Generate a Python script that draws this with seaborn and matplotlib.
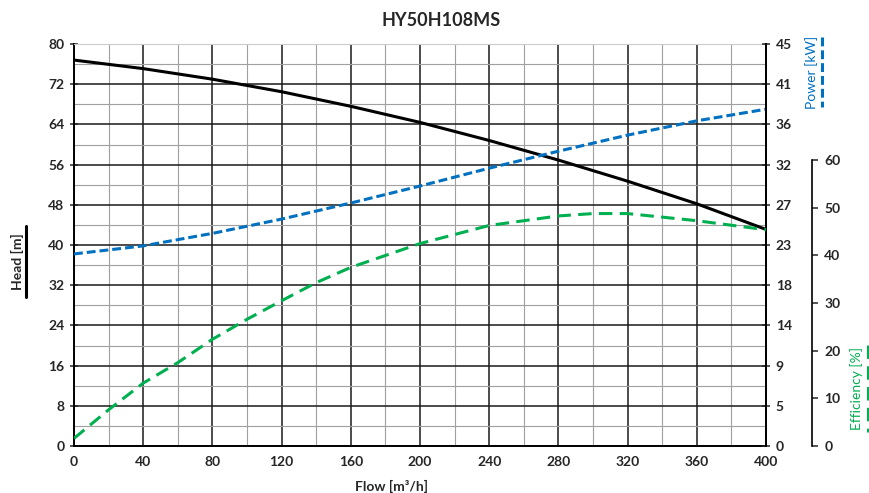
import numpy as np
import pandas as pd
import matplotlib
matplotlib.use("Agg")
import matplotlib.pyplot as plt
import seaborn as sns
from matplotlib.lines import Line2D
from matplotlib.ticker import MultipleLocator, FixedLocator, FixedFormatter

# --- data ---
flow = [0, 40, 80, 120, 160, 200, 240, 280, 320, 360, 400]
head = [76.8, 75.1, 73.0, 70.5, 67.6, 64.4, 60.8, 56.9, 52.7, 48.2, 43.1]
power = [21.5, 22.4, 23.8, 25.4, 27.2, 29.1, 31.1, 33.0, 34.8, 36.4, 37.7]

eff_flow = [0, 20, 40, 60, 80, 100, 120, 140, 160, 180, 200, 240, 280, 300, 320, 360, 400]
efficiency = [1.6, 7.6, 13.2, 17.5, 22.4, 26.6, 30.5, 34.3, 37.5, 40.0, 42.5,
              46.3, 48.3, 48.8, 48.8, 47.3, 45.4]

head_ticks = [0, 8, 16, 24, 32, 40, 48, 56, 64, 72, 80]
power_ticks = [0, 4.5, 9, 13.5, 18, 22.5, 27, 31.5, 36, 40.5, 45]
power_ticklabels = ["0", "5", "9", "14", "18", "23", "27", "32", "36", "41", "45"]
eff_ticks = [0, 10, 20, 30, 40, 50, 60]
flow_ticks = [0, 40, 80, 120, 160, 200, 240, 280, 320, 360, 400]

df_main = pd.DataFrame({"flow": flow, "head": head, "power": power})
df_eff = pd.DataFrame({"flow": eff_flow, "eff": efficiency})

BLUE = "#0070C0"
GREEN = "#00B050"
LW = 2.2
BLUE_DASH = [2.9, 1.3]
GREEN_DASH = [4.4, 2.4]

sns.set_style("white")
plt.rcParams["font.family"] = ["Lato", "DejaVu Sans"]

W, H = 870, 493
fig = plt.figure(figsize=(W / 100, H / 100), dpi=100)
ax = fig.add_axes([74 / W, 1 - 446 / H, 692 / W, 402 / H])

# --- head curve ---
sns.lineplot(data=df_main, x="flow", y="head", ax=ax, color="black", lw=LW)
ax.set_xlim(0, 400)
ax.set_ylim(0, 80)
ax.xaxis.set_major_locator(FixedLocator(flow_ticks))
ax.xaxis.set_minor_locator(MultipleLocator(20))
ax.yaxis.set_major_locator(FixedLocator(head_ticks))
ax.yaxis.set_minor_locator(MultipleLocator(4))
ax.grid(which="major", color="#1a1a1a", lw=1.1)
ax.grid(which="minor", color="#a0a0a0", lw=0.8)
ax.set_axisbelow(True)
ax.tick_params(axis="both", which="major", direction="inout", length=6, width=1.1,
               labelsize=10, pad=4)
ax.tick_params(axis="both", which="minor", length=0)
for lab in ax.get_xticklabels() + ax.get_yticklabels():
    lab.set_fontweight("bold")
for s in ["left", "bottom", "right"]:
    ax.spines[s].set_color("black")
    ax.spines[s].set_linewidth(1.4)
ax.spines["top"].set_color("#cccccc")
ax.set_xlabel("Flow [m³/h]", fontsize=10, fontweight="bold")
ax.xaxis.set_label_coords((392 - 74) / 692, -0.085)
ax.set_ylabel("")

# --- power curve ---
axp = ax.twinx()
sns.lineplot(data=df_main, x="flow", y="power", ax=axp, color=BLUE, lw=LW)
axp.lines[-1].set_dashes(BLUE_DASH)
axp.set_ylim(0, 45)
axp.yaxis.set_major_locator(FixedLocator(power_ticks))
axp.yaxis.set_major_formatter(FixedFormatter(power_ticklabels))
axp.tick_params(axis="y", direction="inout", length=6, width=1.1, labelsize=10, pad=4)
for lab in axp.get_yticklabels():
    lab.set_fontweight("bold")
axp.set_ylabel("")
for s in ["left", "top", "bottom"]:
    axp.spines[s].set_visible(False)
axp.spines["right"].set_linewidth(1.4)
axp.spines["right"].set_color("black")

# --- efficiency curve ---
axe = ax.twinx()
sns.lineplot(data=df_eff, x="flow", y="eff", ax=axe, color=GREEN, lw=LW)
axe.lines[-1].set_dashes(GREEN_DASH)
axe.set_ylim(0, 84.4)
axe.spines["right"].set_position(("outward", 33))
axe.spines["right"].set_bounds(0, 60)
axe.spines["right"].set_color("black")
axe.spines["right"].set_linewidth(1.2)
for s in ["left", "top", "bottom"]:
    axe.spines[s].set_visible(False)
axe.yaxis.set_major_locator(FixedLocator(eff_ticks))
axe.tick_params(axis="y", direction="out", length=4, width=1.1, labelsize=10, pad=5)
for lab in axe.get_yticklabels():
    lab.set_fontweight("bold")
axe.set_ylabel("")

# --- titles and axis captions with line keys ---
fig.text(441 / W, 1 - 20 / H, "HY50H108MS", ha="center", va="center",
         fontsize=13, fontweight="bold")
fig.text(17 / W, 1 - 262 / H, "Head [m]", rotation=90, ha="center", va="center",
         fontsize=10, fontweight="bold")
fig.add_artist(Line2D([26 / W, 26 / W], [1 - 226 / H, 1 - 297 / H],
                      transform=fig.transFigure, color="black", lw=LW))
fig.text(812 / W, 1 - 72 / H, "Power [kW]", rotation=90, ha="center", va="center",
         fontsize=10, color=BLUE)
fig.add_artist(Line2D([822 / W, 822 / W], [1 - 37 / H, 1 - 107 / H],
                      transform=fig.transFigure, color=BLUE, lw=LW,
                      dashes=BLUE_DASH))
fig.text(857 / W, 1 - 388 / H, "Efficiency [%]", rotation=90, ha="center", va="center",
         fontsize=10, color=GREEN)
fig.add_artist(Line2D([868 / W, 868 / W], [1 - 345 / H, 1 - 432 / H],
                      transform=fig.transFigure, color=GREEN, lw=LW,
                      dashes=GREEN_DASH))

fig.savefig("out.png", dpi=100)
